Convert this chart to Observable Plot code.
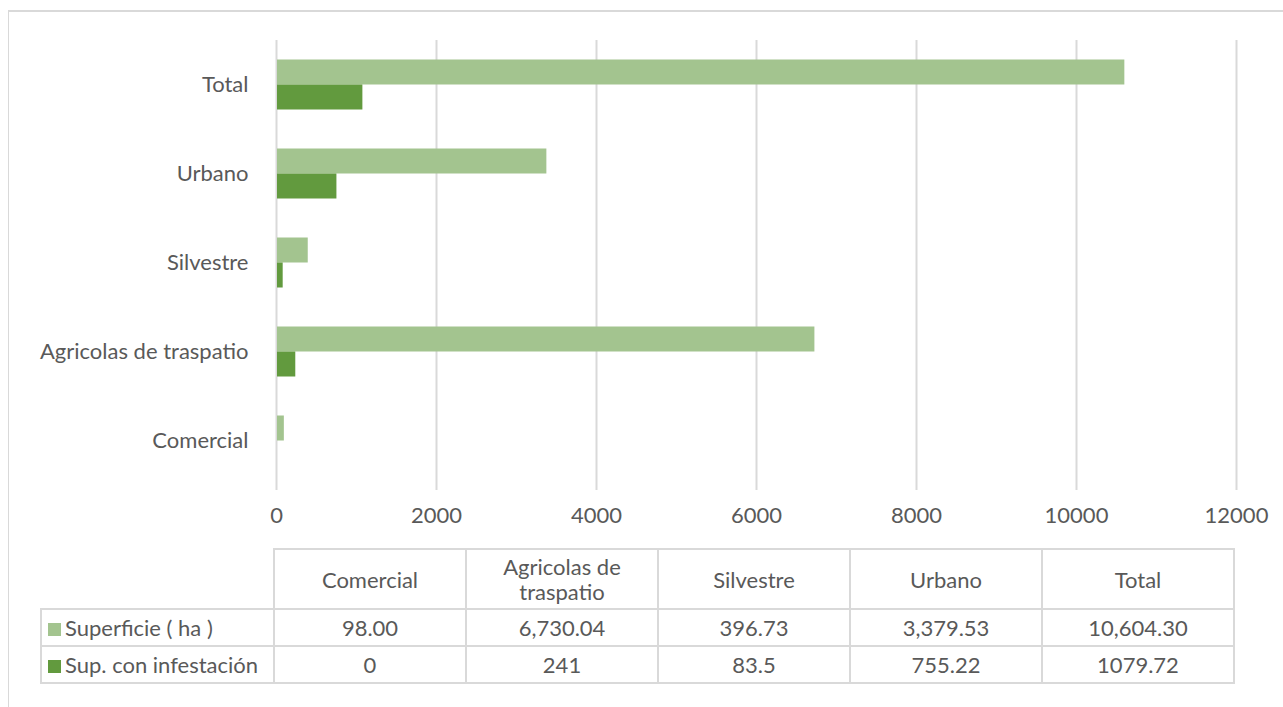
<!DOCTYPE html>
<html>
<head>
<meta charset="utf-8">
<script src="https://cdn.jsdelivr.net/npm/d3@7"></script>
<script src="https://cdn.jsdelivr.net/npm/@observablehq/plot@0.6"></script>
<style>
  html, body { margin: 0; padding: 0; background: #fff; }
  #wrap { position: relative; width: 1283px; height: 707px; overflow: hidden; font-family: Lato, sans-serif; color: #595959; }
  #frame { position: absolute; left: 8px; top: 10px; width: 1400px; height: 900px; border-left: 1px solid #d9d9d9; border-top: 2px solid #d9d9d9; }
  #chart { position: absolute; left: 0; top: 0; }
  table { position: absolute; left: 40px; top: 548px; border-collapse: collapse; font-size: 22px; color: #595959; }
  td { border: 2px solid #d9d9d9; text-align: center; padding: 0; }
  td.blank { border: none; }
  tr.head td { height: 58px; line-height: 25px; }
  tr.row td { height: 35px; }
  td.lab { text-align: left; padding-left: 6px; white-space: nowrap; }
  .key { display: inline-block; width: 13px; height: 13px; margin-right: 4px; vertical-align: 0px; }
</style>
</head>
<body>
<div id="wrap">
  <div id="frame"></div>
  <div id="chart"></div>
  <div id="tbl"></div>
</div>
<script>
const categories = ["Comercial", "Agricolas de traspatio", "Silvestre", "Urbano", "Total"];
const headerLabels = ["Comercial", "Agricolas de<br>traspatio", "Silvestre", "Urbano", "Total"];
const seriesNames = ["Superficie ( ha )", "Sup. con infestación"];
const superficie = [98.00, 6730.04, 396.73, 3379.53, 10604.30];
const infestacion = [0, 241, 83.5, 755.22, 1079.72];
const superficieText = ["98.00", "6,730.04", "396.73", "3,379.53", "10,604.30"];
const infestacionText = ["0", "241", "83.5", "755.22", "1079.72"];
const xTicks = [0, 2000, 4000, 6000, 8000, 10000, 12000];
const colors = ["#a3c48f", "#629a3e"];

const dataA = categories.map((c, i) => ({category: c, value: superficie[i]}));
const dataB = categories.map((c, i) => ({category: c, value: infestacion[i]}));

const chart = Plot.plot({
  width: 1283,
  height: 540,
  marginLeft: 276,
  marginRight: 47,
  marginTop: 40,
  marginBottom: 55,
  style: {fontFamily: "Lato, sans-serif", fontSize: "22px", color: "#595959", background: "transparent"},
  x: {domain: [0, 12000], ticks: xTicks, tickFormat: d => String(d), tickSize: 0, tickPadding: 22, label: null},
  y: {domain: categories.slice().reverse(), padding: 0, tickSize: 0, tickPadding: 28, label: null},
  marks: [
    Plot.ruleX(xTicks, {stroke: "#d9d9d9", strokeWidth: 2, insetBottom: -5}),
    Plot.barX(dataA, {y: "category", x: "value", fill: colors[0], insetTop: 19.5, insetBottom: 44.5, insetLeft: 1}),
    Plot.barX(dataB, {y: "category", x: "value", fill: colors[1], insetTop: 44.5, insetBottom: 19.5, insetLeft: 1})
  ]
});
document.getElementById("chart").appendChild(chart);

// data table
let html = '<table><tr class="head"><td class="blank" style="width:232px"></td>';
headerLabels.forEach(h => { html += `<td style="width:190px">${h}</td>`; });
html += '</tr>';
const rows = [superficieText, infestacionText];
rows.forEach((vals, r) => {
  html += `<tr class="row"><td class="lab"><span class="key" style="background:${colors[r]}"></span>${seriesNames[r]}</td>`;
  vals.forEach(v => { html += `<td>${v}</td>`; });
  html += '</tr>';
});
html += '</table>';
document.getElementById("tbl").innerHTML = html;
</script>
</body>
</html>
